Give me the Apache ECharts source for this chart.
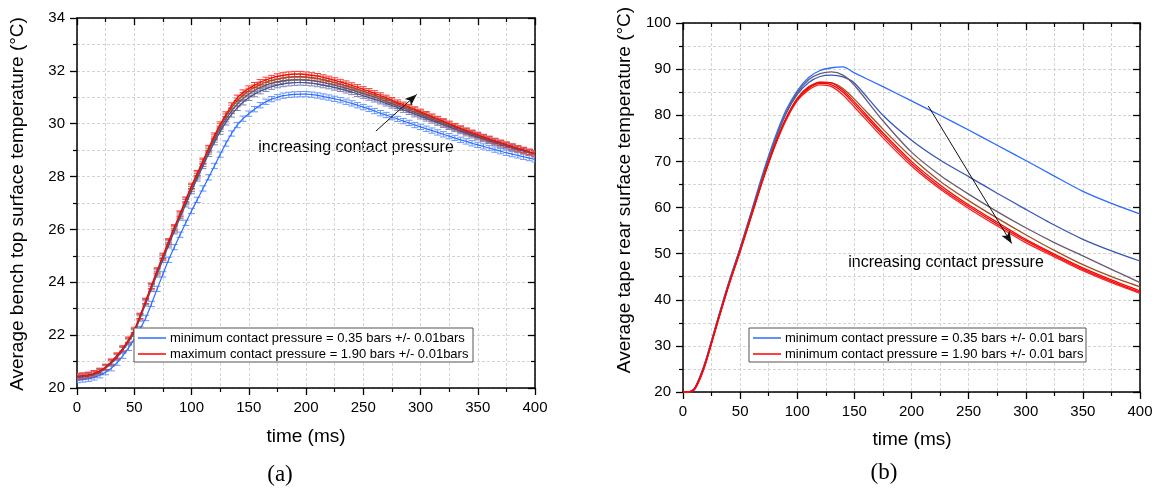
<!DOCTYPE html>
<html><head><meta charset="utf-8">
<script src="https://cdn.jsdelivr.net/npm/echarts@6/dist/echarts.min.js"></script>
<style>html,body{margin:0;padding:0;background:#fff}#c{width:1160px;height:491px}</style>
</head><body><div id="c"></div>
<script>
// ---------- Panel (a): bench top surface temperature (every 5 ms) ----------
const timeA = [0,5,10,15,20,25,30,35,40,45,50,55,60,65,70,75,80,85,90,95,100,105,110,115,120,125,130,135,140,145,150,155,160,165,170,175,180,185,190,195,200,205,210,215,220,225,230,235,240,245,250,255,260,265,270,275,280,285,290,295,300,305,310,315,320,325,330,335,340,345,350,355,360,365,370,375,380,385,390,395,400];
const benchMin = [20.30,20.32,20.35,20.40,20.48,20.60,20.75,20.96,21.22,21.52,21.85,22.23,22.65,23.18,23.75,24.3,24.85,25.33,25.8,26.25,26.7,27.12,27.55,27.97,28.4,28.83,29.25,29.63,29.95,30.19,30.38,30.55,30.7,30.83,30.93,31.0,31.06,31.09,31.11,31.12,31.12,31.1,31.07,31.03,30.99,30.94,30.89,30.83,30.77,30.7,30.63,30.56,30.48,30.4,30.33,30.25,30.18,30.1,30.03,29.95,29.88,29.81,29.74,29.67,29.6,29.53,29.46,29.39,29.33,29.26,29.2,29.14,29.08,29.02,28.96,28.9,28.85,28.8,28.75,28.7,28.65];
const benchP2 = [20.4,20.42,20.45,20.51,20.6,20.75,20.93,21.16,21.43,21.75,22.1,22.63,23.2,23.75,24.3,24.85,25.4,25.93,26.45,26.95,27.45,27.93,28.4,28.86,29.3,29.7,30.05,30.35,30.6,30.81,30.98,31.12,31.23,31.32,31.4,31.46,31.5,31.53,31.55,31.56,31.55,31.53,31.5,31.46,31.42,31.37,31.32,31.26,31.2,31.13,31.06,30.99,30.92,30.85,30.77,30.69,30.61,30.53,30.45,30.36,30.28,30.2,30.12,30.04,29.96,29.88,29.8,29.72,29.64,29.56,29.49,29.42,29.35,29.28,29.21,29.14,29.08,29.02,28.96,28.9,28.84];
const benchP3 = [20.42,20.44,20.47,20.53,20.62,20.77,20.96,21.19,21.46,21.78,22.13,22.68,23.25,23.81,24.37,24.92,25.47,26.0,26.52,27.03,27.53,28.01,28.48,28.95,29.4,29.81,30.17,30.48,30.74,30.95,31.12,31.26,31.37,31.46,31.53,31.58,31.62,31.65,31.66,31.66,31.65,31.63,31.6,31.56,31.51,31.46,31.4,31.34,31.28,31.21,31.14,31.07,31.0,30.92,30.84,30.76,30.68,30.6,30.52,30.43,30.35,30.26,30.18,30.09,30.01,29.93,29.85,29.77,29.69,29.61,29.53,29.46,29.39,29.32,29.25,29.18,29.11,29.04,28.98,28.92,28.86];
const benchP4 = [20.44,20.46,20.49,20.55,20.64,20.79,20.98,21.21,21.48,21.8,22.15,22.71,23.28,23.85,24.42,24.97,25.52,26.05,26.57,27.09,27.6,28.08,28.55,29.02,29.48,29.9,30.27,30.6,30.87,31.08,31.24,31.37,31.48,31.57,31.64,31.69,31.73,31.76,31.78,31.78,31.77,31.74,31.71,31.67,31.62,31.56,31.5,31.44,31.37,31.3,31.23,31.16,31.08,31.0,30.92,30.84,30.75,30.67,30.58,30.5,30.41,30.32,30.23,30.15,30.06,29.97,29.89,29.8,29.72,29.64,29.56,29.48,29.41,29.34,29.27,29.2,29.13,29.06,29.0,28.93,28.87];
const benchMax = [20.45,20.47,20.5,20.56,20.65,20.8,21.0,21.23,21.5,21.83,22.2,22.73,23.3,23.87,24.45,25.0,25.55,26.08,26.6,27.13,27.65,28.13,28.6,29.08,29.55,29.97,30.35,30.69,30.98,31.18,31.33,31.46,31.57,31.66,31.73,31.79,31.83,31.86,31.88,31.88,31.86,31.83,31.8,31.75,31.7,31.64,31.58,31.52,31.45,31.38,31.3,31.23,31.15,31.07,30.98,30.89,30.8,30.72,30.63,30.54,30.45,30.36,30.27,30.18,30.09,30.0,29.91,29.82,29.74,29.66,29.58,29.5,29.43,29.35,29.28,29.21,29.14,29.07,29.01,28.94,28.88];
const benchErr = 0.1;
const arrowA = [[261, 29.72], [296.7, 31.11]];

// ---------- Panel (b): tape rear surface temperature ----------
const timeB = [0,5,10,15,20,25,30,40,50,60,70,80,90,100,110,120,130,140,150,175,200,225,250,275,300,325,350,375,400];
const tape1 = [20,20,20.8,23.5,27,31.2,35.5,43.8,51.3,59.3,67.5,74.8,81,85.3,88.2,89.7,90.3,90.5,89.2,86.2,83.1,80,76.8,73.5,70.2,66.8,63.5,60.9,58.6];
const tape2 = [20,20,20.7,23.3,26.8,31,35.3,43.5,51,58.9,66.9,74.1,80.2,84.5,87.1,88.4,88.7,88.3,87,80,74.6,70.3,66.7,63.1,59.6,56.2,53.1,50.6,48.4];
const tape3 = [20,20,20.7,23.3,26.8,31,35.3,43.5,51,58.9,66.9,74.2,80.4,84.9,87.7,89,89.4,88.7,86.5,78.8,72,67,62.9,59.1,55.6,52.4,49.5,46.6,43.7];
const tape4 = [20,20,20.6,23.1,26.5,30.7,35,43.2,50.7,58.5,66.3,73.4,79.3,83.7,86.2,87.1,87,85.8,83.5,77,70.9,65.7,61.5,57.7,54.1,50.7,47.6,45,42.8];
const tape5 = [20,20,20.6,23.1,26.5,30.7,35,43.2,50.6,58.4,66.2,73.3,79.2,83.5,86,87.2,87,85.4,82.9,76.2,70,64.9,60.6,56.8,53.1,49.9,46.9,44.3,41.9];
const tape6 = [20,20,20.6,23,26.4,30.6,34.9,43.1,50.5,58.3,66.1,73.1,79,83.3,85.8,86.9,86.6,85,82.4,75.7,69.5,64.4,60.2,56.4,52.8,49.6,46.6,44,41.6];
const tape7 = [20,20,20.5,22.9,26.3,30.5,34.8,43,50.4,58.2,66,73,78.8,83.1,85.5,86.6,86.2,84.4,81.8,75.1,69,64,59.8,56,52.4,49.3,46.3,43.7,41.4];
const arrowB = [[214.7, 82.0], [287.7, 52.2]];

const nameMinA = 'minimum contact pressure = 0.35 bars +/- 0.01bars';
const nameMaxA = 'maximum contact pressure = 1.90 bars +/- 0.01bars';
const nameMinB = 'minimum contact pressure = 0.35 bars +/- 0.01 bars';
const nameMaxB = 'minimum contact pressure = 1.90 bars +/- 0.01 bars';

const C_BLUE = '#2d6cff', C_RED = '#ff0000';
const FF = '"Liberation Sans", Arial, sans-serif';
const zip = (t, v) => t.map((x, i) => [x, v[i]]);
const zipE = (t, v, e) => t.map((x, i) => [x, v[i], e]);

const gridLine = {show: true, lineStyle: {color: '#d4d4d4', type: [3, 2], width: 1}};
function xMain(gi) {
  return {type: 'value', gridIndex: gi, min: 0, max: 400, interval: 50, position: 'bottom',
    axisLine: {onZero: false, lineStyle: {color: '#000', width: 1.5}},
    axisTick: {length: 7, lineStyle: {color: '#000', width: 1.3}},
    minorTick: {show: true, splitNumber: 2, length: 4, lineStyle: {color: '#000', width: 1.2}},
    axisLabel: {color: '#000', fontSize: 15, margin: 12, fontFamily: FF},
    splitLine: gridLine, minorSplitLine: gridLine};
}
function xMirror(gi) {
  return {type: 'value', gridIndex: gi, min: 0, max: 400, interval: 50, position: 'top',
    axisLine: {onZero: false, lineStyle: {color: '#000', width: 1.5}},
    axisTick: {inside: true, length: 7, lineStyle: {color: '#000', width: 1.3}},
    minorTick: {show: true, splitNumber: 2, length: 4, lineStyle: {color: '#000', width: 1.2}},
    axisLabel: {show: false}, splitLine: {show: false}, minorSplitLine: {show: false}};
}
function yMain(gi, min, max, interval) {
  return {type: 'value', gridIndex: gi, min, max, interval, position: 'left',
    axisLine: {onZero: false, lineStyle: {color: '#000', width: 1.5}},
    axisTick: {length: 7, lineStyle: {color: '#000', width: 1.3}},
    minorTick: {show: true, splitNumber: 2, length: 4, lineStyle: {color: '#000', width: 1.2}},
    axisLabel: {color: '#000', fontSize: 15, margin: 12, fontFamily: FF},
    splitLine: gridLine, minorSplitLine: gridLine};
}
function yMirror(gi, min, max, interval) {
  return {type: 'value', gridIndex: gi, min, max, interval, position: 'right',
    axisLine: {onZero: false, lineStyle: {color: '#000', width: 1.5}},
    axisTick: {inside: true, length: 7, lineStyle: {color: '#000', width: 1.3}},
    minorTick: {show: true, splitNumber: 2, length: 4, lineStyle: {color: '#000', width: 1.2}},
    axisLabel: {show: false}, splitLine: {show: false}, minorSplitLine: {show: false}};
}
function errRender(color) {
  return function (params, api) {
    const x = api.value(0), y = api.value(1), e = api.value(2);
    const t = api.coord([x, y + e]), b = api.coord([x, y - e]);
    const hw = 3.5;
    const st = {stroke: color, lineWidth: 1};
    return {type: 'group', children: [
      {type: 'line', shape: {x1: t[0], y1: t[1], x2: b[0], y2: b[1]}, style: st},
      {type: 'line', shape: {x1: t[0] - hw, y1: t[1], x2: t[0] + hw, y2: t[1]}, style: st},
      {type: 'line', shape: {x1: b[0] - hw, y1: b[1], x2: b[0] + hw, y2: b[1]}, style: st}
    ]};
  };
}
function lineA(name, data, color) {
  return {type: 'line', name, xAxisIndex: 0, yAxisIndex: 0, data: zip(timeA, data), symbol: 'none',
    smooth: 0.3, lineStyle: {color, width: 1.2}, itemStyle: {color}, z: 3, silent: true};
}
function errA(data, color) {
  return {type: 'custom', xAxisIndex: 0, yAxisIndex: 0, data: zipE(timeA, data, benchErr),
    renderItem: errRender(color), clip: true, z: 2, silent: true};
}
function lineB(name, data, color) {
  return {type: 'line', name, xAxisIndex: 2, yAxisIndex: 2, data: zip(timeB, data), symbol: 'none',
    smooth: 0.25, lineStyle: {color, width: 1.3}, itemStyle: {color}, z: 3, silent: true};
}
const arrowLine = (pts) => ({silent: true, symbol: ['none', 'arrow'], symbolSize: [7, 12],
  lineStyle: {color: '#111', width: 1, type: 'solid'}, label: {show: false},
  data: [[{coord: pts[0]}, {coord: pts[1]}]]});

const series = [
  errA(benchMin, '#6a98ff'), errA(benchP2, '#7d86b8'), errA(benchP3, '#8c7c98'), errA(benchP4, '#c07a50'), errA(benchMax, '#ff3a3a'),
  lineA(nameMinA, benchMin, C_BLUE), lineA('p2a', benchP2, '#3f4f94'), lineA('p3a', benchP3, '#5f5070'),
  lineA('p4a', benchP4, '#9a4a24'), Object.assign(lineA(nameMaxA, benchMax, C_RED), {markLine: arrowLine(arrowA)}),
  lineB(nameMinB, tape1, '#2a6bff'), lineB('p2b', tape2, '#3a56b5'), lineB('p3b', tape3, '#6b5a72'),
  lineB('p4b', tape4, '#a0501e'), lineB('p6b', tape6, '#e01010'), lineB('p7b', tape7, '#ff2020'),
  Object.assign(lineB(nameMaxB, tape5, C_RED), {markLine: arrowLine(arrowB)})
];

function legendBox(x, y, w, items) {
  const els = [{type: 'rect', silent: true, z: 100, shape: {x: x, y: y, width: w, height: 34},
    style: {fill: '#fff', stroke: '#555', lineWidth: 1}}];
  items.forEach((it, i) => {
    const cy = y + 10 + i * 16;
    els.push({type: 'line', silent: true, z: 101, shape: {x1: x + 4, y1: cy, x2: x + 32, y2: cy},
      style: {stroke: it.color, lineWidth: 1.5}});
    els.push({type: 'text', silent: true, z: 101, x: x + 36, y: cy,
      style: {text: it.text, fontSize: 13, fontFamily: FF, fill: '#000', textVerticalAlign: 'middle'}});
  });
  return els;
}

const txt = (x, y, text, size, opts) => Object.assign({type: 'text', x, y, silent: true,
  style: {text, fontSize: size, fontFamily: FF, fill: '#000', textAlign: 'center', textVerticalAlign: 'middle'}}, opts || {});
const serif = '"Liberation Serif", "Times New Roman", serif';

const option = {
  animation: false,
  backgroundColor: '#fff',
  grid: [
    {left: 77, top: 18, width: 458, height: 370, containLabel: false, outerBoundsMode: 'none'},
    {left: 683, top: 23, width: 457, height: 369, containLabel: false, outerBoundsMode: 'none'}
  ],
  xAxis: [xMain(0), xMirror(0), xMain(1), xMirror(1)],
  yAxis: [yMain(0, 20, 34, 2), yMirror(0, 20, 34, 2), yMain(1, 20, 100, 10), yMirror(1, 20, 100, 10)],
  series,
  graphic: [
    txt(18, 204, 'Average bench top surface temperature (°C)', 19, {rotation: Math.PI / 2}),
    txt(625, 190, 'Average tape rear surface temperature (°C)', 19, {rotation: Math.PI / 2}),
    txt(306, 437, 'time (ms)', 19),
    txt(912, 440, 'time (ms)', 19),
    txt(356, 148, 'increasing contact pressure', 16),
    txt(946, 263, 'increasing contact pressure', 16),
    {type: 'text', x: 280, y: 475, silent: true, style: {text: '(a)', fontSize: 23, fontFamily: serif, fill: '#000', textAlign: 'center', textVerticalAlign: 'middle'}},
    {type: 'text', x: 884, y: 473, silent: true, style: {text: '(b)', fontSize: 23, fontFamily: serif, fill: '#000', textAlign: 'center', textVerticalAlign: 'middle'}}
  ].concat(
    legendBox(134, 328, 339, [{color: C_BLUE, text: nameMinA}, {color: C_RED, text: nameMaxA}]),
    legendBox(749, 328, 337, [{color: '#2a6bff', text: nameMinB}, {color: C_RED, text: nameMaxB}])
  )
};
const chart = echarts.init(document.getElementById('c'), null, {renderer: 'canvas'});
chart.setOption(option);
</script></body></html>
